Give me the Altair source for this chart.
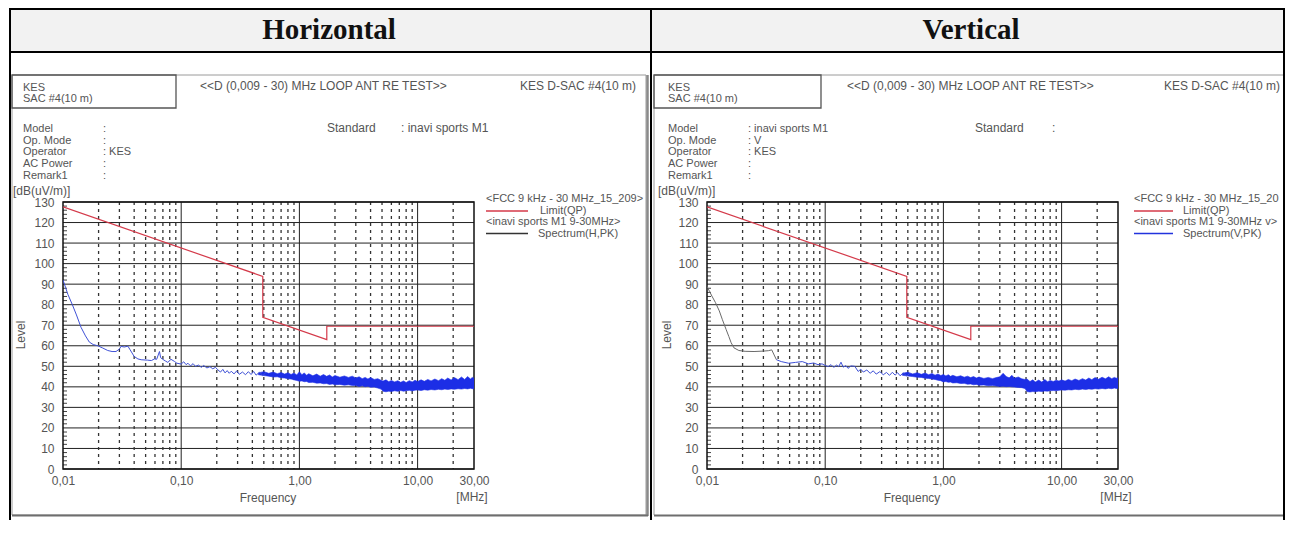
import altair as alt
import pandas as pd

# ------------------------------------------------------------------ data
limit_freq = [0.01, 0.49, 0.49, 1.705, 1.705, 30.0]
limit_level = [127.6, 93.8, 73.8, 63.0, 69.5, 69.5]

h_freq = [0.0100, 0.0105, 0.0110, 0.0120, 0.0130, 0.0142, 0.0155, 0.0167, 0.0180, 0.0197,
          0.0215, 0.0239, 0.0260, 0.0281, 0.0300, 0.0310, 0.0330, 0.0354, 0.0370, 0.0400,
          0.0430, 0.0458, 0.0520, 0.0560, 0.0594, 0.0620, 0.0655, 0.0670, 0.0698, 0.0740,
          0.0770, 0.0820, 0.0876, 0.0920, 0.1000, 0.1050, 0.1100, 0.1140, 0.1200, 0.1260,
          0.1320, 0.1400, 0.1480, 0.1550, 0.1650, 0.1750, 0.1850, 0.1950, 0.2040, 0.2150,
          0.2250, 0.2350, 0.2450, 0.2550, 0.2650, 0.2800, 0.2950, 0.3100, 0.3300, 0.3500,
          0.3700, 0.3900, 0.4100, 0.4300, 0.4600, 0.4900, 0.5200]
h_level = [92.0, 88.5, 85.0, 80.0, 75.0, 69.0, 64.8, 61.8, 60.6, 60.0,
           59.0, 57.7, 57.2, 57.2, 58.4, 59.7, 59.4, 59.8, 58.0, 54.8,
           53.6, 53.2, 53.0, 52.8, 53.6, 53.4, 57.2, 54.2, 53.4, 52.5,
           51.9, 53.4, 52.4, 51.5, 51.1, 52.2, 50.8, 51.5, 50.2, 51.3,
           50.0, 50.6, 49.5, 50.4, 49.2, 49.8, 48.8, 49.5, 48.3, 47.2,
           48.5, 46.8, 47.9, 46.6, 47.6, 46.3, 47.8, 46.1, 47.2, 45.9,
           47.4, 46.0, 47.5, 45.7, 47.1, 45.5, 46.9]

band_freq = [0.45, 0.50, 0.55, 0.60, 0.65, 0.70, 0.75, 0.80, 0.85, 0.90,
             0.95, 1.0, 1.05, 1.1, 1.15, 1.2, 1.3, 1.4, 1.5, 1.6,
             1.7, 1.8, 1.9, 2.0, 2.2, 2.4, 2.6, 2.8, 3.0, 3.2,
             3.4, 3.6, 3.8, 4.0, 4.3, 4.6, 4.9, 5.1, 5.4, 5.7,
             6.0, 6.4, 6.8, 7.2, 7.6, 8.0, 8.5, 9.0, 9.5, 10,
             10.7, 11.4, 12.2, 13, 14, 15, 16, 17, 18, 19.2,
             20.5, 22, 23.5, 25, 26.5, 28, 29, 30]
h_band_low = [45.9, 45.5, 45.2, 44.8, 44.9, 44.4, 44.3, 43.9, 43.8, 43.4,
              43.1, 42.7, 42.9, 42.5, 42.6, 42.1, 42.2, 41.8, 41.9, 41.5,
              41.6, 41.2, 41.4, 41.0, 41.2, 40.8, 41.0, 40.7, 40.6, 40.2,
              40.5, 40.1, 40.3, 39.8, 39.9, 39.4, 38.9, 37.9, 37.6, 37.9,
              37.7, 38.1, 37.8, 38.2, 37.9, 38.1, 38.3, 38.0, 38.4, 38.5,
              38.2, 38.6, 38.4, 38.7, 38.5, 38.8, 38.6, 38.9, 38.7, 39.0,
              38.8, 39.1, 38.9, 39.2, 39.0, 39.3, 39.1, 39.0]
h_band_high = [46.8, 47.4, 46.6, 47.2, 46.4, 47.0, 46.2, 46.9, 46.0, 46.7,
               45.8, 47.3, 45.9, 46.8, 45.6, 46.4, 45.4, 46.2, 45.2, 46.0,
               45.1, 45.8, 44.8, 45.5, 44.7, 45.3, 44.6, 45.2, 44.3, 44.9,
               44.0, 44.6, 43.8, 44.5, 43.6, 44.0, 43.2, 42.8, 43.4, 42.5,
               43.1, 42.4, 43.0, 42.2, 42.9, 42.1, 43.0, 42.4, 43.2, 42.6,
               43.4, 42.7, 43.6, 42.9, 43.8, 43.0, 44.0, 43.2, 44.3, 43.3,
               44.5, 43.5, 44.8, 43.6, 45.0, 43.8, 44.6, 44.2]

v_gray_freq = [0.0100, 0.0105, 0.0110, 0.0118, 0.0127, 0.0135, 0.0145, 0.0153, 0.0160,
               0.0169, 0.0186, 0.0210, 0.0250, 0.0300, 0.0330, 0.0353, 0.0370, 0.0387]
v_gray_level = [88.9, 86.5, 84.2, 81.0, 77.0, 72.7, 68.0, 64.5, 61.5,
                59.0, 57.7, 57.3, 57.2, 57.4, 57.6, 58.0, 55.5, 53.2]
v_freq = [0.0387, 0.0425, 0.0490, 0.0560, 0.0640, 0.0720, 0.0800, 0.0870, 0.0940, 0.1000,
          0.1060, 0.1120, 0.1180, 0.1250, 0.1300, 0.1360, 0.1420, 0.1500, 0.1560, 0.1650,
          0.1780, 0.1900, 0.2000, 0.2100, 0.2250, 0.2400, 0.2550, 0.2700, 0.2900, 0.3100,
          0.3300, 0.3500, 0.3700, 0.3900, 0.4100, 0.4300, 0.4600, 0.4900, 0.5200]
v_level = [53.2, 52.3, 51.5, 51.9, 52.3, 51.2, 51.6, 50.8, 51.2, 50.4,
           49.9, 50.8, 49.5, 50.6, 49.8, 52.0, 49.6, 50.3, 49.0, 50.2,
           50.0, 47.5, 48.6, 47.2, 48.2, 46.6, 47.8, 46.2, 47.4, 45.9,
           47.0, 45.6, 47.1, 45.7, 46.9, 45.4, 46.8, 45.2, 46.6]

v_band_low = [45.6, 45.3, 45.0, 44.7, 44.6, 44.2, 44.1, 43.8, 43.6, 43.2,
              43.0, 42.4, 42.6, 42.2, 42.3, 41.9, 42.0, 41.6, 41.7, 41.3,
              41.4, 41.0, 41.2, 40.8, 40.9, 40.5, 40.7, 40.4, 40.2, 40.3,
              40.1, 40.2, 40.0, 39.9, 39.7, 39.6, 39.2, 37.7, 37.5, 37.7,
              37.6, 37.9, 37.7, 38.0, 37.9, 38.1, 38.2, 38.1, 38.3, 38.5,
              38.4, 38.6, 38.5, 38.8, 38.6, 38.9, 38.7, 39.0, 38.8, 39.1,
              38.9, 39.2, 39.0, 39.3, 39.1, 39.4, 39.2, 39.2]
v_band_high = [46.6, 47.1, 46.3, 46.9, 46.1, 46.7, 45.9, 46.5, 45.7, 46.3,
               45.5, 46.0, 45.3, 45.9, 45.1, 45.6, 44.9, 45.4, 44.7, 45.2,
               44.5, 45.0, 44.3, 44.8, 44.1, 44.6, 44.0, 44.5, 44.9, 46.6,
               45.0, 44.4, 45.6, 44.2, 44.8, 43.9, 43.6, 43.8, 42.6, 43.4,
               42.4, 43.3, 42.3, 43.6, 42.5, 43.1, 42.6, 43.2, 42.8, 43.4,
               42.8, 43.6, 43.0, 43.8, 43.1, 44.0, 43.3, 44.3, 43.5, 44.5,
               43.7, 44.7, 43.9, 44.9, 44.0, 44.6, 44.2, 44.4]

x_label_values = [0.01, 0.1, 1, 10, 30]
y_label_values = [0, 10, 20, 30, 40, 50, 60, 70, 80, 90, 100, 110, 120, 130]
y_minor_values = [v for v in range(2, 130, 2) if v % 10]
x_major_values = [0.1, 1, 10]
x_minor_values = [0.02, 0.03, 0.04, 0.05, 0.06, 0.07, 0.08, 0.09,
                  0.2, 0.3, 0.4, 0.5, 0.6, 0.7, 0.8, 0.9,
                  2, 3, 4, 5, 6, 7, 8, 9, 20]

# ------------------------------------------------------------------ texts
header_h = "Horizontal"
header_v = "Vertical"
site_text = "KES\nSAC #4(10 m)"
test_title = "<<D (0,009 - 30) MHz LOOP ANT RE TEST>>"
site_right = "KES D-SAC #4(10 m)"
field_names = "Model\nOp. Mode\nOperator\nAC Power\nRemark1"
h_field_values = ":\n:\n: KES\n:\n:"
v_field_values = ": inavi sports M1\n: V\n: KES\n:\n:"
standard_label = "Standard"
h_standard_value = ": inavi sports M1"
v_standard_value = ":"
unit_label = "[dB(uV/m)]"
y_title = "Level"
x_title = "Frequency"
x_unit = "[MHz]"
limit_header = "<FCC 9 kHz - 30 MHz_15_209>"
limit_name = "Limit(QP)"
h_spec_header = "<inavi sports M1 9-30MHz>"
v_spec_header = "<inavi sports M1 9-30MHz v>"
h_spec_name = "Spectrum(H,PK)"
v_spec_name = "Spectrum(V,PK)"

# ------------------------------------------------------------------ helpers
PW, PH = 411, 267
XS = alt.Scale(type="log", domain=[0.01, 30], nice=False)
YS = alt.Scale(domain=[0, 130], nice=False, zero=False)
FONT = "Liberation Sans"
FS = 12      # single-line texts and axis labels
FSB = 11     # tightly stacked texts (blocks and legend)
TXT = "#555555"
BLUE = "#1c2ee6"
ONE = pd.DataFrame({"k": [0]})

XAX = alt.Axis(values=x_label_values, labelExpr="replace(format(datum.value, '.2f'), '.', ',')",
               title=None, grid=False, domain=False, ticks=False, labelPadding=6,
               labelFont=FONT, labelFontSize=FS, labelColor=TXT, labelFlush=False,
               labelOverlap=False, zindex=1)
YAX = alt.Axis(values=y_label_values, title=None, grid=False,
               domain=False, ticks=False, labelPadding=9, labelFont=FONT, labelFontSize=FS,
               labelColor=TXT, labelFlush=False, labelOverlap=False, zindex=1)


def X(field):
    return alt.X(field, scale=XS, axis=XAX)


def Y(field):
    return alt.Y(field, scale=YS, axis=YAX)


def rect(x, x2, y, y2, **kw):
    return alt.Chart(ONE).mark_rect(**kw).encode(
        x=alt.value(x), x2=alt.value(x2), y=alt.value(y), y2=alt.value(y2))


def hrule(x, x2, y, color="#000000", width=1.0):
    return alt.Chart(ONE).mark_rule(color=color, strokeWidth=width).encode(
        x=alt.value(x), x2=alt.value(x2), y=alt.value(y))


def vrule(x, y, y2, color="#000000", width=1.0):
    return alt.Chart(ONE).mark_rule(color=color, strokeWidth=width).encode(
        x=alt.value(x), y=alt.value(y), y2=alt.value(y2))


def label(s, x, y, size=FS, color=TXT, align="left", baseline="middle", font=FONT, **kw):
    return alt.Chart(ONE).mark_text(text=s, align=align, baseline=baseline, fontSize=size,
                                    color=color, font=font, **kw).encode(
        x=alt.value(x), y=alt.value(y))


def line(freq, level, color):
    return alt.Chart(pd.DataFrame({"f": freq, "L": level})).mark_line(
        color=color, strokeWidth=1, clip=True).encode(x=X("f:Q"), y=Y("L:Q"))


def band(freq, low, high):
    return alt.Chart(pd.DataFrame({"f": freq, "lo": low, "hi": high})).mark_area(
        color=BLUE, opacity=1, stroke=BLUE, strokeWidth=0.6, clip=True).encode(
        x=X("f:Q"), y=Y("lo:Q"), y2="hi:Q")


def panel(side):
    left = side == "H"
    L = []
    if left:
        L.append(rect(-54, 1223, -194, 318, fill="white"))
        L.append(rect(-52, 587, -192, -151, fill="#f2f2f2"))
        L += [vrule(-53, -193, 318, "#000", 2), hrule(-54, 589, -193, "#000", 2),
              hrule(-53, 588, -150, "#000", 2), vrule(588, -193, 318, "#000", 2)]
        L.append(rect(-51, 583, -127, 313, fillOpacity=0, stroke="#9a9a9a", strokeWidth=1))
        L.append(vrule(584.5, -127, 314, "#8a8a8a", 2.5))
        L.append(hrule(-51, 585, 313.5, "#6e6e6e", 2))
        L.append(rect(-51, 113, -127, -94, fillOpacity=0, stroke="#555555", strokeWidth=1.3))
        o = dict(head=266, site=-40, title=137, vals=40, std=264, stdv=338, unit=-50, lev=-42,
                 lx=423, lx2=465, ln1=477, ln2=475, lim=158)
        header, fvals, stdv = header_h, h_field_values, h_standard_value
        sph, spn, spc = h_spec_header, h_spec_name, "#333333"
    else:
        L.append(rect(-55, 576, -192, -151, fill="#f2f2f2"))
        L += [hrule(-56, 578, -193, "#000", 2), hrule(-56, 578, -150, "#000", 2),
              vrule(577, -193, 318, "#000", 2), vrule(-56, -193, 318, "#000", 2)]
        L += [hrule(-53, 576, -127, "#9a9a9a", 1), vrule(-53, -127, 313, "#9a9a9a", 1),
              hrule(-53, 576, 313.5, "#6e6e6e", 2)]
        L.append(rect(-53, 114, -127, -94, fillOpacity=0, stroke="#555555", strokeWidth=1.3))
        o = dict(head=264, site=-39, title=140, vals=41, std=268, stdv=345, unit=-49, lev=-40,
                 lx=427, lx2=466, ln1=476, ln2=476, lim=149)
        header, fvals, stdv = header_v, v_field_values, v_standard_value
        sph, spn, spc = v_spec_header, v_spec_name, "#2233dd"

    # texts
    L.append(label(header, o["head"], -163, size=29, color="#111111", align="center",
                   baseline="alphabetic", font="Liberation Serif", fontWeight="bold"))
    L.append(label(site_text, o["site"], -119.7, size=FSB, baseline="top", lineBreak="\n",
                   lineHeight=11.2))
    L.append(label(test_title, o["title"], -116))
    L.append(label(site_right, 573, -116, align="right"))
    L.append(label(field_names, o["site"], -78.7, size=FSB, baseline="top", lineBreak="\n",
                   lineHeight=11.6))
    L.append(label(fvals, o["vals"], -78.7, size=FSB, baseline="top", lineBreak="\n",
                   lineHeight=11.6))
    L.append(label(standard_label, o["std"], -74))
    L.append(label(stdv, o["stdv"], -74))
    L.append(label(unit_label, o["unit"], -11))
    L.append(label(y_title, o["lev"], 133, align="center", angle=270))
    L.append(label(x_title, 205, 296, align="center"))
    L.append(label(x_unit, 409, 295, align="center"))

    # grid
    L.append(alt.Chart(pd.DataFrame({"v": y_label_values})).mark_rule(
        color="#222222", strokeWidth=1).encode(y=Y("v:Q")))
    L.append(alt.Chart(pd.DataFrame({"f": x_major_values})).mark_rule(
        color="#222222", strokeWidth=1).encode(x=X("f:Q")))
    L.append(alt.Chart(pd.DataFrame({"f": x_minor_values})).mark_rule(
        color="#333333", strokeWidth=1.3, strokeDash=[3, 4]).encode(x=X("f:Q")))
    L.append(alt.Chart(pd.DataFrame({"v": y_minor_values})).mark_rule(
        color="#444444", strokeWidth=1).encode(y=Y("v:Q"), x=alt.value(0), x2=alt.value(4)))
    # plot frame
    L.append(rect(0, PW, 0, PH, fillOpacity=0, stroke="#111111", strokeWidth=1.5))

    # limit line
    lim_df = pd.DataFrame({"f": limit_freq, "L": limit_level, "i": list(range(len(limit_freq)))})
    L.append(alt.Chart(lim_df).mark_line(color="#d43a4a", strokeWidth=1.2, clip=True).encode(
        x=X("f:Q"), y=Y("L:Q"), order=alt.Order("i:Q")))

    # spectrum
    if left:
        L.append(band(band_freq, h_band_low, h_band_high))
        L.append(line(h_freq, h_level, "#3f51d6"))
    else:
        L.append(band(band_freq, v_band_low, v_band_high))
        L.append(line(v_gray_freq, v_gray_level, "#6a6a6a"))
        L.append(line(v_freq, v_level, "#3f51d6"))

    # legend
    L.append(label(limit_header, o["lx"], -3, size=FSB, limit=o["lim"], ellipsis=" "))
    L.append(hrule(o["lx"], o["lx2"], 9, "#d43a4a", 1.3))
    L.append(label(limit_name, o["ln1"], 9, size=FSB))
    L.append(label(sph, o["lx"], 20, size=FSB, limit=o["lim"], ellipsis=" "))
    L.append(hrule(o["lx"], o["lx2"], 31.5, spc, 1.3))
    L.append(label(spn, o["ln2"], 31.5, size=FSB))

    return alt.layer(*L).properties(width=PW, height=PH)


chart = alt.hconcat(panel("H"), panel("V"), spacing=233, bounds="flush").properties(
    padding=0, background="white").configure_view(strokeOpacity=0)

chart.save("out.html", embed_options={"renderer": "svg", "actions": False})
